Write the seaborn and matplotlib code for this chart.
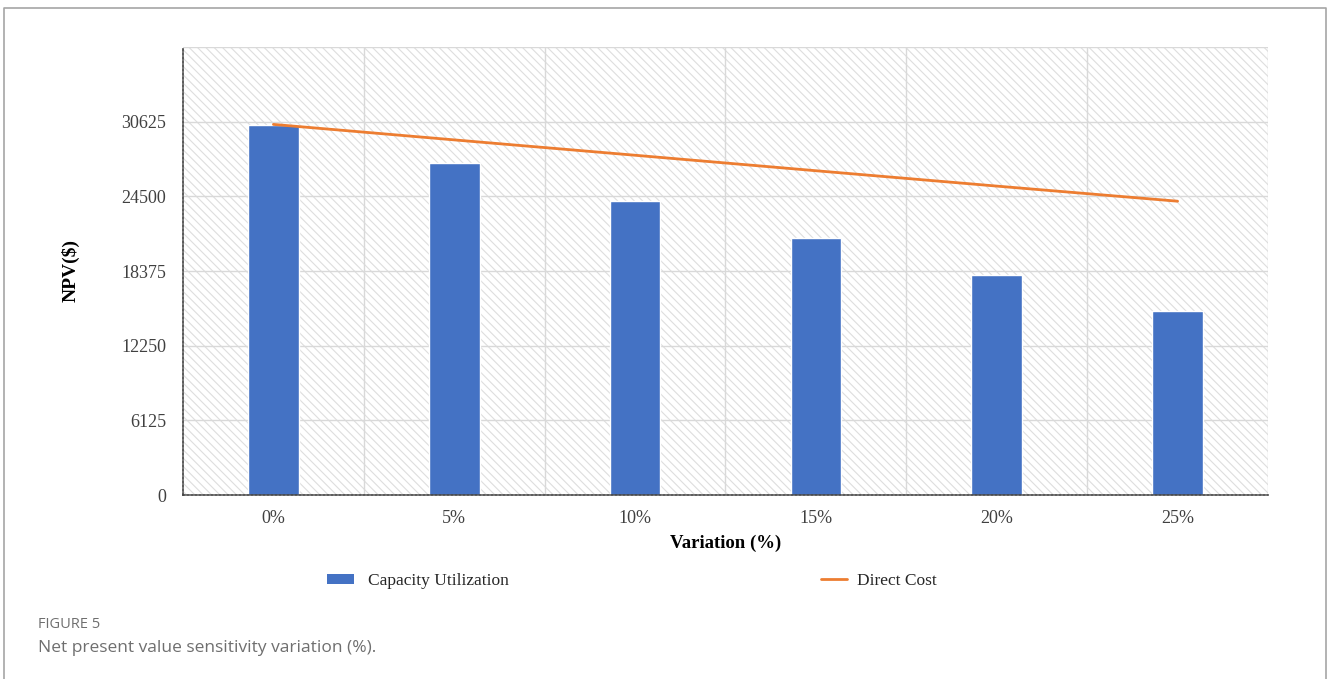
import matplotlib
matplotlib.use("Agg")
import matplotlib.pyplot as plt
from matplotlib.patches import Rectangle, Patch
from matplotlib.lines import Line2D
from matplotlib.ticker import FixedLocator
import pandas as pd
import seaborn as sns

# values
variation = ["0%", "5%", "10%", "15%", "20%", "25%"]
capacity_utilization = [30350, 27250, 24150, 21100, 18050, 15100]
direct_cost = [30400, 29130, 27870, 26600, 25340, 24100]
y_ticks = [0, 6125, 12250, 18375, 24500, 30625]

df = pd.DataFrame({"Variation": variation,
                   "Capacity Utilization": capacity_utilization,
                   "Direct Cost": direct_cost})

sns.set_theme(style="white")
plt.rcParams["font.family"] = ["Liberation Serif", "DejaVu Serif"]
plt.rcParams["hatch.color"] = "#dedede"
plt.rcParams["hatch.linewidth"] = 0.8

fig = plt.figure(figsize=(13.28, 6.79), dpi=100)
ax = fig.add_axes([183 / 1328, 1 - 495 / 679, 1085 / 1328, 448 / 679])

# hatched plot background
ax.add_patch(Rectangle((0, 0), 1, 1, transform=ax.transAxes, facecolor="white",
                       hatch="\\\\\\\\", edgecolor="#dedede", linewidth=0, zorder=0))

sns.barplot(data=df, x="Variation", y="Capacity Utilization", color="#4472C4",
            width=0.28, saturation=1, ax=ax, zorder=3)
sns.lineplot(data=df, x="Variation", y="Direct Cost", color="#ED7D31",
             linewidth=2, ax=ax, zorder=4)

ax.set_xlim(-0.5, 5.5)
ax.set_ylim(0, 36750)
ax.set_yticks(y_ticks)
ax.set_yticklabels([str(v) for v in y_ticks])
ax.xaxis.set_minor_locator(FixedLocator([0.5, 1.5, 2.5, 3.5, 4.5, 5.5]))
ax.grid(False)
ax.grid(True, axis="y", which="major", color="#d9d9d9", linewidth=1, zorder=1)
ax.grid(True, axis="x", which="minor", color="#d9d9d9", linewidth=1, zorder=1)
ax.axhline(36750, color="#d9d9d9", linewidth=1, zorder=1)
ax.set_axisbelow(True)

for side in ["top", "right"]:
    ax.spines[side].set_visible(False)
for side in ["left", "bottom"]:
    ax.spines[side].set_linestyle((0, (1.2, 1.2)))
    ax.spines[side].set_color("#404040")
    ax.spines[side].set_linewidth(1.2)
    ax.spines[side].set_zorder(5)

ax.tick_params(axis="both", which="both", length=0, labelsize=13, colors="#404040")
ax.tick_params(axis="y", pad=12)
ax.tick_params(axis="x", pad=11)
ax.set_xlabel("Variation (%)", fontsize=13.5, fontweight="bold", color="black", labelpad=5)
ax.set_ylabel("NPV($)", fontsize=14, fontweight="bold", color="black", labelpad=30)

# legends below the axes
leg1 = fig.legend(handles=[Patch(facecolor="#4472C4", edgecolor="none")],
                  labels=["Capacity Utilization"], loc="center left",
                  bbox_to_anchor=(311 / 1328, 1 - 581 / 679), frameon=False,
                  fontsize=12.5, handlelength=1.6, handleheight=0.5, handletextpad=0.8)
leg2 = fig.legend(handles=[Line2D([], [], color="#ED7D31", linewidth=2)],
                  labels=["Direct Cost"], loc="center left",
                  bbox_to_anchor=(805 / 1328, 1 - 581 / 679), frameon=False,
                  fontsize=12.5, handlelength=1.5, handletextpad=0.6)

# caption
fig.text(38 / 1328, 1 - 625 / 679, "FIGURE 5", fontsize=10.5, color="#6f6f6f",
         family=["Open Sans", "DejaVu Sans"], va="center")
fig.text(38 / 1328, 1 - 648 / 679, "Net present value sensitivity variation (%).",
         fontsize=12.5, color="#6f6f6f", family=["Open Sans", "DejaVu Sans"], va="center")

# outer frame (open at the bottom)
fig.add_artist(Line2D([4 / 1328, 4 / 1328, 1326 / 1328, 1326 / 1328],
                      [0, 1 - 8 / 679, 1 - 8 / 679, 0],
                      transform=fig.transFigure, color="#a6a6a6", linewidth=1.2))

fig.savefig("out.png", dpi=100)
